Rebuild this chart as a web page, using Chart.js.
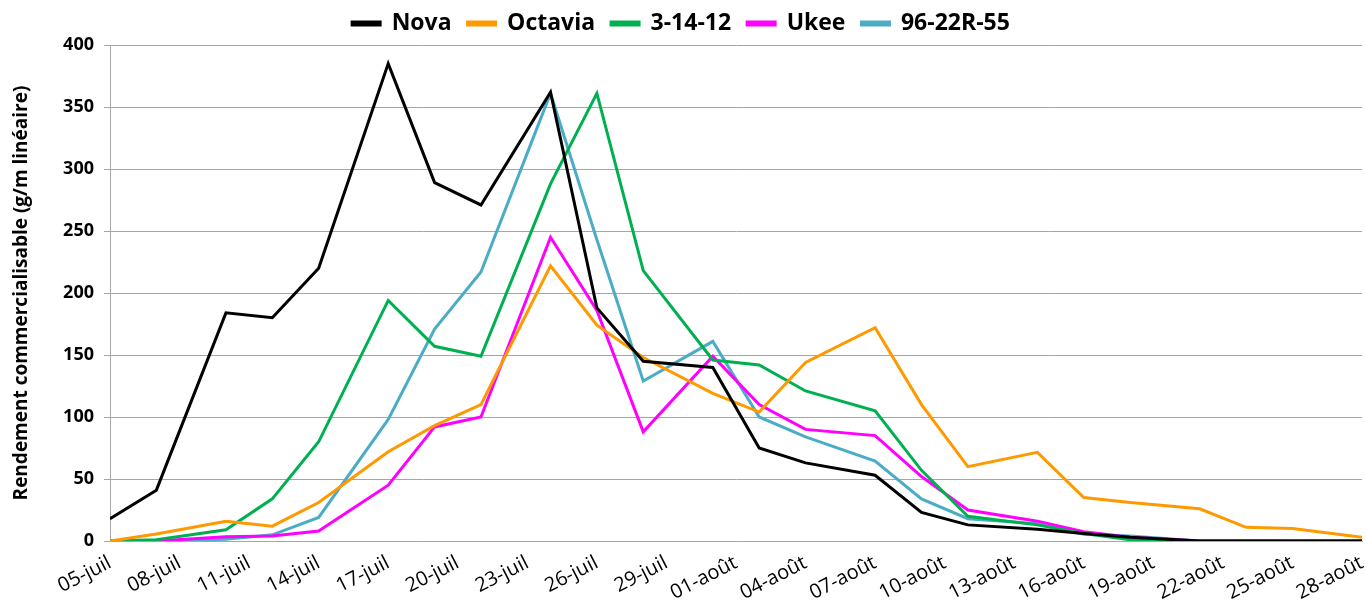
<!DOCTYPE html>
<html lang="fr">
<head>
<meta charset="utf-8">
<script src="https://cdn.jsdelivr.net/npm/chart.js@4.4.1/dist/chart.umd.min.js"></script>
<style>
  body { margin: 0; background: #fff; }
  #cadre { width: 1366px; height: 605px; }
</style>
</head>
<body>
<div id="cadre"><canvas id="graphique"></canvas></div>
<script>
// jours de récolte, comptés depuis le 05-juil
const jours = [0, 2, 5, 7, 9, 12, 14, 16, 19, 21, 23, 26, 28, 30, 33, 35, 37, 40, 42, 44, 47, 49, 51, 54];
const etiquettes = ["05-juil", "08-juil", "11-juil", "14-juil", "17-juil", "20-juil", "23-juil", "26-juil", "29-juil",
    "01-août", "04-août", "07-août", "10-août", "13-août", "16-août", "19-août", "22-août", "25-août", "28-août"];

const nova    = [18, 41, 184, 180, 220, 385, 289, 271, 362, 188, 145, 140, 75, 63, 53, 23, 13, 9.5, 6, 3, 0, 0, 0, 0];
const octavia = [0, 5.6, 16, 12, 31, 72, 93, 110, 222, 174, 148, 119, 104, 144, 172, 110, 60, 71.5, 35, 31, 26, 11, 10, 3];
const lignee3 = [0, 1, 9, 34, 80, 194, 157, 149, 288, 361, 218, 146, 142, 121, 105, 57, 20, 13, 6, 1, 0, 0, 0, 0];
const ukee    = [0, 0, 3.5, 4, 8, 45, 92, 100, 245, 186, 88, 149, 110, 90, 85, 52, 25, 16, 7.5, 3, 0, 0, 0, 0];
const lignee96 = [0, 0, 1.4, 5, 19, 98, 171, 217, 361, 243, 129, 161, 100, 84, 64.5, 34, 18, 14, 5.4, 4, 0, 0, 0, 0];

document.addEventListener("DOMContentLoaded", function() {
    const police = "'Open Sans', sans-serif";
    const gris = "#a6a6a6";

    function serie(nom, valeurs, couleur) {
        return {
            label: nom,
            data: jours.map((j, i) => ({ x: j, y: valeurs[i] })),
            borderColor: couleur,
            backgroundColor: couleur,
            borderWidth: 3,
            pointRadius: 0,
            tension: 0
        };
    }

    let ctx = document.getElementById("graphique").getContext("2d");

    new Chart(ctx, {
        type: "line",
        data: {
            datasets: [
                serie("Nova", nova, "#000000"),
                serie("Octavia", octavia, "#ff9900"),
                serie("3-14-12", lignee3, "#00b050"),
                serie("Ukee", ukee, "#ff00ff"),
                serie("96-22R-55", lignee96, "#4bacc6")
            ]
        },
        options: {
            responsive: true,
            maintainAspectRatio: false,
            animation: false,
            layout: { padding: { left: 0, right: 4, top: -4, bottom: 0 } },
            plugins: {
                tooltip: { enabled: false },
                legend: {
                    position: "top",
                    labels: {
                        color: "#000",
                        font: { family: police, size: 23, weight: "bold" },
                        boxWidth: 28,
                        boxHeight: 3,
                        padding: 16
                    }
                },
            },
            scales: {
                x: {
                    type: "linear",
                    min: 0,
                    max: 54,
                    grid: { display: false },
                    border: { color: gris },
                    ticks: {
                        stepSize: 3,
                        autoSkip: false,
                        maxRotation: 27,
                        minRotation: 27,
                        padding: 2,
                        color: "#000",
                        font: { family: police, size: 20 },
                        callback: (v) => etiquettes[Math.round(v / 3)]
                    },
                    afterFit: (echelle) => {
                        echelle.height = 64;
                        echelle.paddingRight = 0;
                    }
                },
                y: {
                    min: 0,
                    max: 400,
                    grid: { color: gris, tickLength: 6 },
                    border: { color: gris },
                    ticks: {
                        stepSize: 50,
                        padding: 10,
                        color: "#000",
                        font: { family: police, size: 18, weight: "bold" }
                    },
                    title: {
                        display: true,
                        text: "Rendement commercialisable (g/m linéaire)",
                        color: "#000",
                        padding: { top: 10, bottom: 0 },
                        font: { family: police, size: 19, weight: "bold" }
                    },
                    afterFit: (echelle) => { echelle.width = 110; }
                }
            }
        }
    });
});
</script>
</body>
</html>
